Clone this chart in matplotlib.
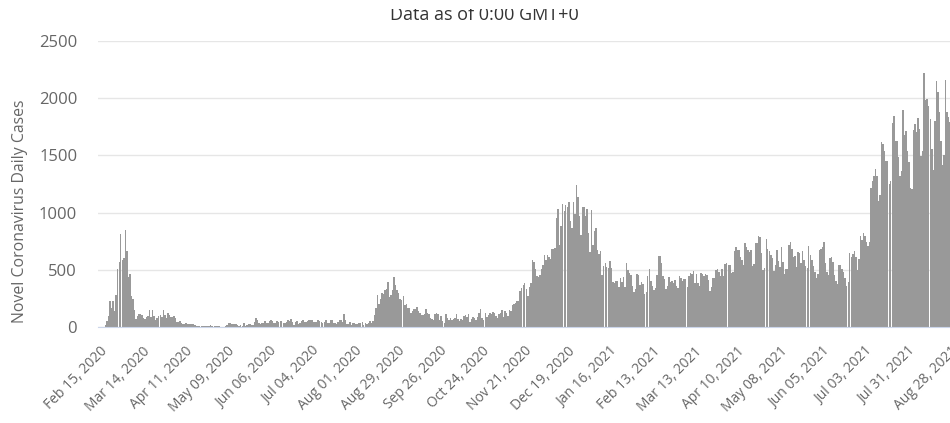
import numpy as np
import pandas as pd
import matplotlib.pyplot as plt
from matplotlib.patches import Rectangle

plt.rcParams['font.family'] = ['Open Sans', 'DejaVu Sans']

# daily new cases, one list per month, first day = Feb 15, 2020
start = '2020-02-15'
feb20 = [0, 0, 1, 1, 20, 53, 100, 229, 169, 231, 144, 284, 505, 571, 813]
mar20 = [586, 599, 851, 660, 435, 467, 268, 248, 150, 70,
         95, 114, 110, 107, 76, 74, 84, 93, 152, 87,
         147, 98, 64, 76, 100, 104, 91, 146, 105, 78, 125]
apr20 = [101, 89, 86, 94, 81, 47, 47, 53, 39, 27,
         30, 32, 25, 27, 27, 22, 22, 18, 8, 13,
         9, 11, 8, 6, 10, 10, 10, 14, 9, 4]
may20 = [9, 6, 13, 8, 3, 2, 4, 12, 18, 34,
         35, 27, 26, 29, 27, 19, 13, 15, 13, 32,
         12, 20, 23, 25, 16, 19, 40, 79, 58, 39, 27]
jun20 = [35, 38, 49, 39, 39, 51, 57, 51, 38, 38,
         50, 45, 56, 49, 37, 34, 43, 59, 49, 67,
         48, 17, 46, 51, 28, 39, 51, 62, 42, 43]
jul20 = [51, 63, 63, 61, 48, 44, 46, 63, 50, 45,
         35, 44, 62, 33, 39, 61, 60, 39, 34, 26,
         45, 63, 59, 41, 113, 58, 25, 28, 48, 18, 36]
aug20 = [31, 30, 23, 34, 33, 43, 20, 36, 28, 34,
         54, 35, 56, 103, 166, 279, 197, 246, 297, 288,
         324, 332, 397, 266, 280, 320, 441, 371, 323, 299, 248]
sep20 = [235, 267, 195, 198, 168, 167, 119, 136, 156, 155,
         176, 136, 121, 109, 106, 113, 153, 126, 110, 82,
         70, 61, 110, 125, 114, 61, 95, 50, 38, 113]
oct20 = [77, 63, 75, 64, 73, 75, 114, 69, 54, 72,
         58, 98, 102, 84, 110, 47, 73, 91, 76, 58,
         89, 121, 155, 77, 61, 119, 88, 103, 125, 114, 127]
nov20 = [124, 97, 75, 118, 125, 145, 89, 143, 126, 100,
         146, 143, 191, 205, 208, 223, 230, 313, 343, 363,
         386, 330, 271, 349, 382, 583, 569, 504, 450, 438]
dec20 = [451, 511, 540, 629, 583, 631, 615, 594, 686, 682,
         689, 950, 1030, 718, 880, 1078, 1014, 1064, 1053, 1097,
         926, 869, 1092, 985, 1241, 1132, 970, 807, 1045, 1050, 967]
jan21 = [1029, 824, 657, 1020, 715, 840, 869, 674, 641, 665,
         451, 537, 562, 524, 513, 580, 520, 389, 386, 404,
         400, 346, 431, 392, 437, 349, 559, 497, 469, 458, 355]
feb21 = [305, 336, 467, 451, 370, 393, 372, 289, 303, 444,
         504, 403, 362, 326, 344, 457, 621, 621, 561, 448,
         416, 332, 357, 440, 396, 406, 388, 415]
mar21 = [355, 344, 444, 424, 398, 418, 416, 346, 446, 470,
         465, 488, 382, 459, 382, 362, 469, 463, 445, 463,
         452, 415, 318, 346, 428, 430, 494, 505, 482, 447, 506]
apr21 = [447, 551, 557, 543, 543, 473, 478, 668, 700, 671,
         677, 614, 587, 542, 731, 698, 673, 658, 672, 532,
         549, 731, 735, 797, 785, 644, 500, 512, 769, 680]
may21 = [661, 627, 606, 488, 541, 676, 574, 525, 701, 564,
         463, 511, 511, 715, 747, 681, 610, 619, 528, 654,
         646, 561, 666, 585, 530, 516, 707, 629, 587, 533, 480]
jun21 = [430, 459, 677, 681, 695, 744, 556, 485, 454, 602,
         611, 565, 452, 399, 373, 545, 540, 507, 482, 429,
         357, 395, 645, 610, 634, 668, 614, 501, 595, 794]
jul21 = [761, 826, 794, 743, 711, 746, 1212, 1275, 1316, 1378,
         1324, 1100, 1150, 1615, 1600, 1536, 1452, 1454, 1252, 1278,
         1784, 1842, 1630, 1629, 1487, 1318, 1365, 1896, 1674, 1710, 1539]
aug21 = [1442, 1219, 1202, 1725, 1776, 1704, 1823, 1729, 1492, 1537,
         2223, 1987, 1990, 1928, 1816, 1556, 1373, 1805, 2152, 2052,
         1882, 1626, 1418, 1507, 2155, 1882, 1840, 1791]

cases = (feb20 + mar20 + apr20 + may20 + jun20 + jul20 + aug20 + sep20 + oct20
         + nov20 + dec20 + jan21 + feb21 + mar21 + apr21 + may21 + jun21 + jul21 + aug21)
dates = pd.date_range(start, periods=len(cases), freq='D')
x = np.arange(len(cases))

fig = plt.figure(figsize=(9.5, 4.23), dpi=100)
ax = fig.add_axes([98 / 950, 96 / 423, 852 / 950, 286 / 423])

ax.bar(x, cases, width=0.96, color='#999999', linewidth=0)

ax.set_ylim(0, 2500)
ax.set_xlim(-0.99, 558.8)
ax.set_yticks(range(0, 2501, 500))
ax.yaxis.grid(True, color='#e6e6e6', linewidth=1)
ax.set_axisbelow(True)
for s in ['top', 'right', 'left']:
    ax.spines[s].set_visible(False)
ax.spines['bottom'].set_color('#ccd6eb')

ticks = x[::28]
ax.set_xticks(ticks)
ax.set_xticklabels([dates[i].strftime('%b %d, %Y') for i in ticks])
ax.tick_params(axis='x', length=0, pad=12, labelsize=10, labelcolor='#666666')
ax.tick_params(axis='y', length=0, pad=15, labelsize=12, labelcolor='#666666')
plt.setp(ax.get_xticklabels(), rotation=45, ha='right', rotation_mode='anchor')

ax.set_ylabel('Novel Coronavirus Daily Cases', fontsize=11.4, color='#666666')
ax.yaxis.set_label_coords(28 / 950, 0.5, transform=fig.transFigure)

fig.text(484 / 950, 1 - 20 / 423, 'Data as of 0:00 GMT+0', ha='center',
         va='baseline', fontsize=13, color='#333333')
# strip across the top hides the upper part of the title, as in the source
fig.patches.append(Rectangle((0, 1 - 9 / 423), 1, 9 / 423, transform=fig.transFigure,
                             facecolor='white', edgecolor='none', zorder=10))

fig.savefig('out.png', dpi=100)
